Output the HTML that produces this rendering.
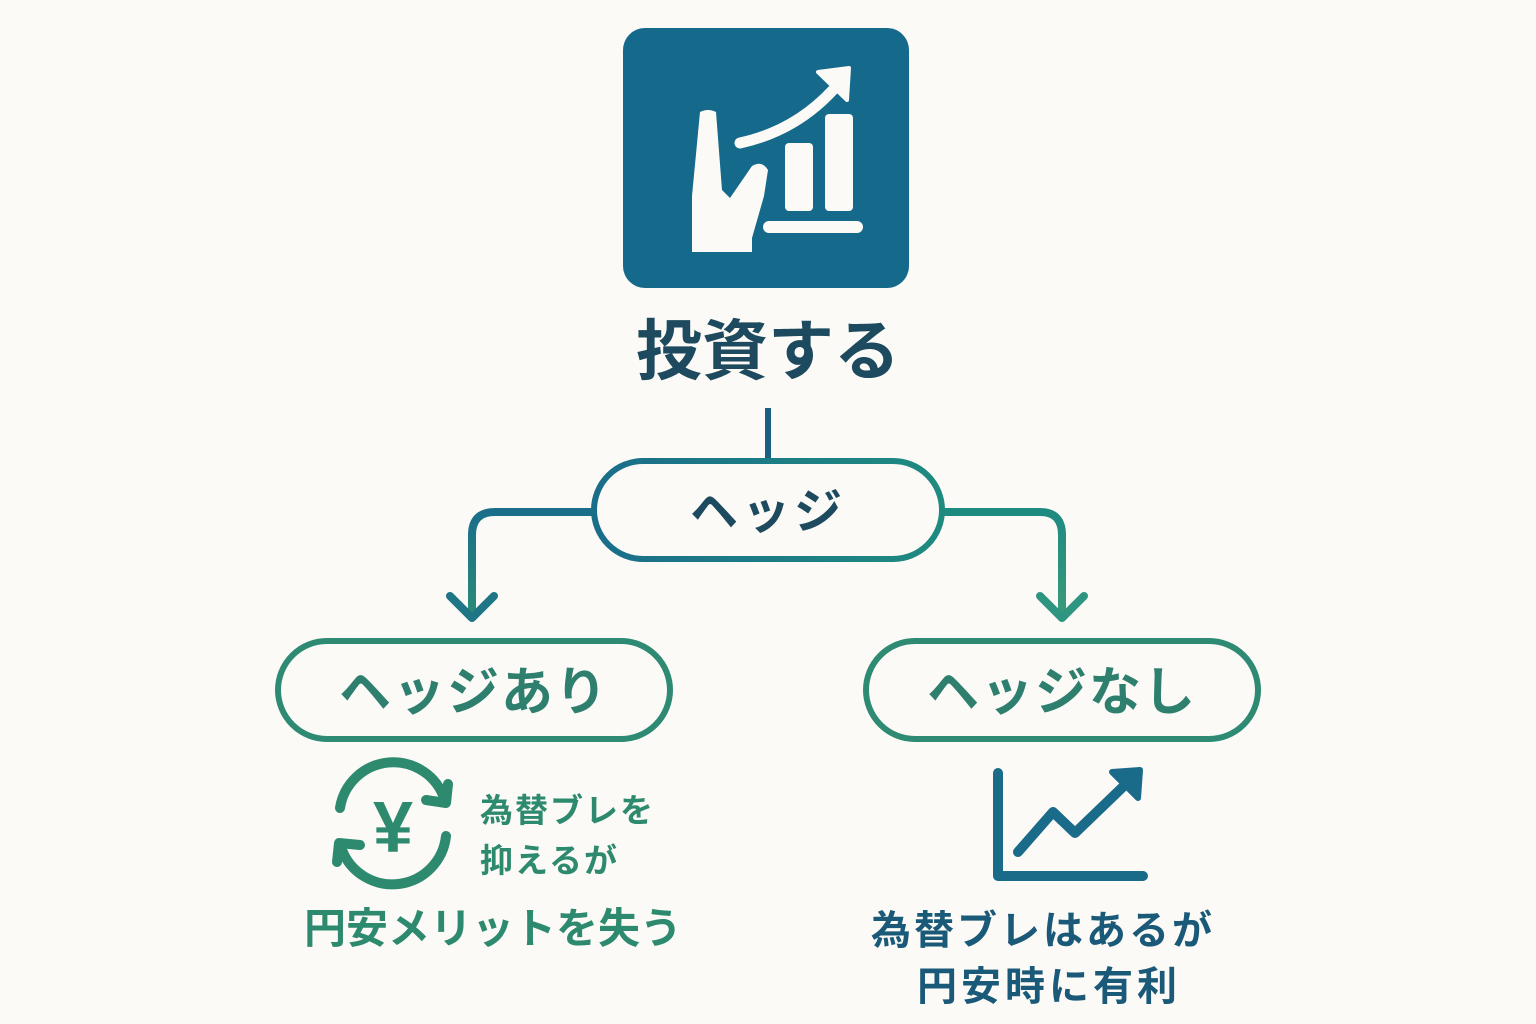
<!DOCTYPE html>
<html><head><meta charset="utf-8"><style>
html,body{margin:0;padding:0;background:#fbfaf7;}
svg{display:block}
text{font-family:"Liberation Sans","Noto Sans CJK JP",sans-serif;font-weight:bold;}
</style></head><body>
<svg width="1536" height="1024" viewBox="0 0 1536 1024" xmlns="http://www.w3.org/2000/svg">
<defs>
<linearGradient id="g1" x1="0" x2="1" y1="0" y2="0"><stop offset="0" stop-color="#1a6e8a"/><stop offset="1" stop-color="#1f8a80"/></linearGradient>
<linearGradient id="gl" x1="0" x2="0" y1="0" y2="1"><stop offset="0" stop-color="#1a6e8a"/><stop offset="1" stop-color="#2a8a78"/></linearGradient>
<linearGradient id="gr" x1="0" x2="0" y1="0" y2="1"><stop offset="0" stop-color="#1e8a80"/><stop offset="1" stop-color="#3a9a7a"/></linearGradient>
</defs>
<rect width="1536" height="1024" fill="#fbfaf7"/>
<rect x="623" y="28" width="286" height="260" rx="22" fill="#156a8c"/>
<g fill="#fbfaf7">
  <rect x="785" y="143" width="28" height="68" rx="4"/>
  <rect x="825" y="114" width="28" height="97" rx="4"/>
  <rect x="763" y="221" width="100" height="12" rx="6"/>
  <path d="M700 112 Q708 108 716 112 L722 190 L730 198 L752 166 Q762 160 768 170 L764 196 L752 238 L752 252 L692 252 L692 196 Z"/>
</g>
<path d="M740 143 Q800 130 840 82" stroke="#fbfaf7" stroke-width="11" fill="none" stroke-linecap="round"/>
<path d="M818 72 L849 68 L847 100 Z" fill="#fbfaf7" stroke="#fbfaf7" stroke-width="4" stroke-linejoin="round"/>
<text x="768" y="374" font-size="66" fill="#1d4a5e" text-anchor="middle">投資する</text>
<line x1="768" y1="408" x2="768" y2="460" stroke="#1a5f80" stroke-width="6"/>
<path d="M594 512 L495 512 Q472 512 472 535 L472 612" stroke="url(#gl)" stroke-width="8" fill="none"/>
<path d="M450 596 L472 618 L494 596" stroke="#1e7585" stroke-width="8" fill="none" stroke-linecap="round" stroke-linejoin="round"/>
<path d="M942 512 L1040 512 Q1062 512 1062 535 L1062 612" stroke="url(#gr)" stroke-width="8" fill="none"/>
<path d="M1040 596 L1062 618 L1084 596" stroke="#2e9580" stroke-width="8" fill="none" stroke-linecap="round" stroke-linejoin="round"/>
<rect x="594" y="461" width="348" height="98" rx="49" fill="#fbfaf7" stroke="url(#g1)" stroke-width="6"/>
<text x="768" y="528" font-size="48" fill="#1d4a5e" text-anchor="middle" letter-spacing="4">ヘッジ</text>
<rect x="278" y="641" width="392" height="98" rx="49" fill="#fbfaf7" stroke="#2e8a73" stroke-width="6"/>
<text x="474" y="710" font-size="52" fill="#2e7f6e" text-anchor="middle" letter-spacing="2">ヘッジあり</text>
<rect x="866" y="641" width="392" height="98" rx="49" fill="#fbfaf7" stroke="#2e8a73" stroke-width="6"/>
<text x="1062" y="710" font-size="52" fill="#2e7f6e" text-anchor="middle" letter-spacing="2">ヘッジなし</text>
<g stroke="#2e8a6e" stroke-width="10" fill="none" stroke-linecap="round" stroke-linejoin="round">
  <path d="M340 808 A54 54 0 0 1 443 795"/>
  <path d="M426 800 L446 803 L448 784"/>
  <path d="M446 836 A54 54 0 0 1 342 850"/>
  <path d="M360 845 L339 843 L337 862"/>
</g>
<text x="393" y="852" font-size="72" fill="#2e8a6e" text-anchor="middle">¥</text>
<text x="480" y="822" font-size="33" fill="#2e8a6e" letter-spacing="2">為替ブレを</text>
<text x="480" y="872" font-size="33" fill="#2e8a6e" letter-spacing="2">抑えるが</text>
<text x="493" y="943" font-size="42" fill="#2e8a6e" text-anchor="middle" letter-spacing="0">円安メリットを失う</text>
<g stroke="#1a6a8a" stroke-width="10" fill="none" stroke-linecap="round" stroke-linejoin="round">
  <path d="M998 773 L998 876 L1143 876"/>
  <path d="M1018 852 L1053 812 L1075 833 L1128 782"/>
</g>
<path d="M1112 772 L1140 770 L1138 798 Z" fill="#1a6a8a" stroke="#1a6a8a" stroke-width="6" stroke-linejoin="round"/>
<text x="1043" y="944" font-size="40" fill="#1a5a78" text-anchor="middle" letter-spacing="3">為替ブレはあるが</text>
<text x="1049" y="1000" font-size="40" fill="#1a5a78" text-anchor="middle" letter-spacing="4">円安時に有利</text>
</svg>
</body></html>
